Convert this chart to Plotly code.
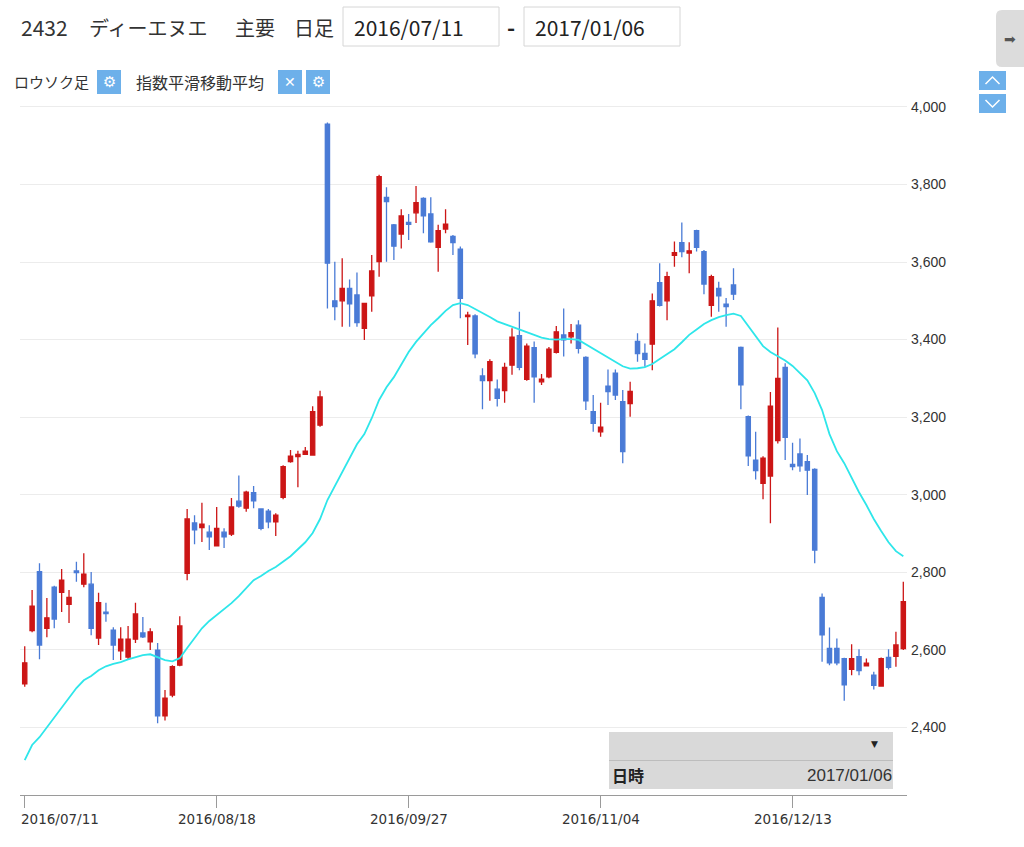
import plotly.graph_objects as go

# ---------------- data ----------------
MONTH_DAYS = [
    ("2016/07", [11, 12, 13, 14, 15, 19, 20, 21, 22, 25, 26, 27, 28, 29]),
    ("2016/08", [1, 2, 3, 4, 5, 8, 9, 10, 12, 15, 16, 17, 18, 19, 22, 23, 24, 25, 26, 29, 30, 31]),
    ("2016/09", [1, 2, 5, 6, 7, 8, 9, 12, 13, 14, 15, 16, 20, 21, 23, 26, 27, 28, 29, 30]),
    ("2016/10", [3, 4, 5, 6, 7, 11, 12, 13, 14, 17, 18, 19, 20, 21, 24, 25, 26, 27, 28, 31]),
    ("2016/11", [1, 2, 4, 7, 8, 9, 10, 11, 14, 15, 16, 17, 18, 21, 22, 24, 25, 28, 29, 30]),
    ("2016/12", [1, 2, 5, 6, 7, 8, 9, 12, 13, 14, 15, 16, 19, 20, 21, 22, 26, 27, 28, 29, 30]),
    ("2017/01", [4, 5, 6]),
]
DATES = [f"{ym}/{d:02d}" for ym, days in MONTH_DAYS for d in days]

OPEN = [2512, 2649, 2801, 2655, 2761, 2748, 2717, 2803, 2769, 2769,
        2630, 2697, 2650, 2597, 2581, 2627, 2643, 2620, 2599, 2429,
        2483, 2560, 2797, 2927, 2915, 2903, 2868, 2903, 2898, 2983,
        2965, 3005, 2963, 2957, 2930, 2993, 3085, 3098, 3104, 3102,
        3179, 3956, 3500, 3500, 3532, 3515, 3429, 3513, 3601, 3767,
        3696, 3672, 3702, 3727, 3764, 3724, 3638, 3685, 3666, 3633,
        3459, 3461, 3306, 3294, 3272, 3268, 3334, 3410, 3297, 3379,
        3291, 3304, 3367, 3412, 3407, 3437, 3354, 3214, 3162, 3280,
        3313, 3240, 3235, 3395, 3364, 3388, 3547, 3500, 3617, 3650,
        3623, 3681, 3627, 3488, 3532, 3491, 3541, 3380, 3201, 3089,
        3029, 3048, 3139, 3328, 3078, 3105, 3085, 3065, 2735, 2603,
        2603, 2577, 2549, 2582, 2558, 2534, 2506, 2580, 2583, 2603]
HIGH = [2609, 2754, 2823, 2733, 2765, 2808, 2754, 2827, 2849, 2800,
        2747, 2721, 2658, 2658, 2661, 2721, 2684, 2655, 2617, 2496,
        2560, 2686, 2963, 2947, 2979, 2921, 2968, 2913, 2991, 3049,
        3010, 3022, 2965, 2963, 2952, 3076, 3115, 3113, 3123, 3228,
        3268, 3960, 3601, 3610, 3555, 3573, 3495, 3618, 3825, 3793,
        3698, 3736, 3724, 3796, 3767, 3767, 3696, 3736, 3670, 3640,
        3472, 3465, 3326, 3349, 3297, 3340, 3429, 3472, 3390, 3395,
        3311, 3381, 3435, 3480, 3440, 3450, 3357, 3257, 3237, 3323,
        3323, 3270, 3291, 3416, 3390, 3519, 3597, 3575, 3653, 3702,
        3651, 3683, 3631, 3567, 3549, 3507, 3584, 3382, 3204, 3162,
        3099, 3265, 3431, 3339, 3134, 3145, 3102, 3068, 2745, 2657,
        2629, 2579, 2614, 2601, 2577, 2543, 2580, 2601, 2646, 2775]
LOW = [2504, 2645, 2575, 2632, 2655, 2697, 2669, 2775, 2761, 2637,
       2612, 2672, 2573, 2573, 2575, 2617, 2630, 2599, 2410, 2417,
       2477, 2557, 2779, 2872, 2878, 2857, 2866, 2862, 2893, 2966,
       2956, 2965, 2908, 2913, 2893, 2988, 3082, 3019, 3102, 3100,
       3175, 3480, 3450, 3433, 3433, 3433, 3399, 3472, 3562, 3601,
       3605, 3635, 3657, 3701, 3674, 3650, 3575, 3674, 3618, 3455,
       3386, 3352, 3220, 3242, 3227, 3237, 3309, 3321, 3294, 3237,
       3283, 3300, 3364, 3356, 3390, 3364, 3218, 3162, 3149, 3231,
       3244, 3081, 3201, 3343, 3330, 3321, 3485, 3450, 3588, 3612,
       3571, 3627, 3517, 3459, 3472, 3433, 3502, 3220, 3074, 3039,
       2988, 2926, 3132, 3089, 3063, 3059, 2999, 2823, 2569, 2560,
       2560, 2468, 2534, 2534, 2557, 2497, 2504, 2549, 2556, 2599]
CLOSE = [2566, 2712, 2612, 2682, 2679, 2779, 2735, 2799, 2795, 2655,
         2721, 2693, 2612, 2627, 2627, 2692, 2633, 2646, 2429, 2475,
         2556, 2661, 2937, 2909, 2924, 2891, 2913, 2891, 2968, 2970,
         3006, 2984, 2913, 2930, 2947, 3072, 3099, 3104, 3112, 3214,
         3252, 3597, 3485, 3532, 3492, 3444, 3493, 3577, 3820, 3756,
         3641, 3719, 3697, 3753, 3719, 3652, 3681, 3698, 3650, 3506,
         3463, 3363, 3294, 3343, 3248, 3328, 3406, 3328, 3383, 3304,
         3298, 3375, 3420, 3399, 3418, 3377, 3242, 3184, 3174, 3266,
         3257, 3111, 3266, 3364, 3349, 3500, 3488, 3562, 3624, 3627,
         3629, 3638, 3543, 3562, 3513, 3485, 3517, 3283, 3100, 3062,
         3094, 3228, 3300, 3148, 3072, 3074, 3063, 2857, 2638, 2566,
         2566, 2509, 2577, 2546, 2565, 2508, 2577, 2554, 2612, 2724]
# exponential moving average line
EMA = [2315, 2354, 2374, 2400, 2426, 2452, 2475, 2501, 2521, 2532,
       2547, 2557, 2563, 2568, 2575, 2580, 2586, 2588, 2580, 2573,
       2570, 2578, 2604, 2630, 2655, 2674, 2689, 2705, 2720, 2738,
       2759, 2779, 2790, 2803, 2813, 2828, 2841, 2859, 2877, 2901,
       2937, 2986, 3022, 3055, 3094, 3130, 3156, 3197, 3244, 3277,
       3303, 3337, 3368, 3394, 3417, 3437, 3455, 3474, 3489, 3494,
       3489, 3479, 3470, 3458, 3447, 3440, 3435, 3428, 3421, 3413,
       3405, 3401, 3400, 3401, 3401, 3399, 3388, 3377, 3365, 3355,
       3342, 3331, 3325, 3326, 3329, 3337, 3350, 3363, 3375, 3393,
       3412, 3426, 3440, 3450, 3458, 3463, 3467, 3461, 3435, 3409,
       3383, 3368, 3357, 3346, 3332, 3314, 3295, 3262, 3218, 3156,
       3112, 3081, 3043, 3006, 2973, 2937, 2906, 2877, 2854, 2841]

Y_TICKS = [2400, 2600, 2800, 3000, 3200, 3400, 3600, 3800, 4000]
X_TICK_IDX = [0, 26, 52, 78, 104]

TITLE_CODE = "2432"
TITLE_NAME = "ディーエヌエ"
TITLE_MARKET = "主要"
TITLE_PERIOD = "日足"
DATE_FROM = DATES[0]
DATE_TO = DATES[-1]
IND1 = "ロウソク足"
IND2 = "指数平滑移動平均"
INFO_LABEL = "日時"

# ---------------- layout geometry ----------------
W, H = 1024, 847
ML, MR, MT, MB = 20, 117, 100, 52
PW, PH = W - ML - MR, H - MT - MB


def px(x):
    return (x - ML) / PW


def py(y):
    return (H - MB - y) / PH


RED = "#cc1616"
BLUE = "#4a7bd6"
BTN = "#6db0ea"
JP = "Noto Sans CJK JP"

fig = go.Figure()
fig.add_trace(go.Candlestick(
    x=DATES, open=OPEN, high=HIGH, low=LOW, close=CLOSE,
    increasing=dict(line=dict(color=RED, width=1.3), fillcolor=RED),
    decreasing=dict(line=dict(color=BLUE, width=1.3), fillcolor=BLUE),
    whiskerwidth=0, showlegend=False, hoverinfo="skip",
))
fig.add_trace(go.Scatter(
    x=DATES, y=EMA, mode="lines", line=dict(color="#2ee6ea", width=1.8),
    showlegend=False, hoverinfo="skip",
))

shapes = []
ann = []


def rect(x0, y0, x1, y1, fill, line="rgba(0,0,0,0)", lw=0):
    shapes.append(dict(type="rect", xref="paper", yref="paper",
                       x0=px(x0), x1=px(x1), y0=py(y1), y1=py(y0),
                       fillcolor=fill, line=dict(color=line, width=lw), layer="above"))


def text(x, y, s, size, color="#333", anchor="left", font=JP, bold=False):
    ann.append(dict(xref="paper", yref="paper", x=px(x), y=py(y), text=f"<b>{s}</b>" if bold else s,
                    showarrow=False, xanchor=anchor, yanchor="middle",
                    font=dict(size=size, color=color, family=font)))


# header
text(19, 27, TITLE_CODE, 21, "#333")
text(87, 27, TITLE_NAME, 20, "#333")
text(233, 27, TITLE_MARKET, 20, "#333")
text(292, 27, TITLE_PERIOD, 20, "#333")
rect(343, 7, 499, 46, "white", "#d6d6d6", 1)
rect(524, 7, 680, 46, "white", "#d6d6d6", 1)
text(352, 27, DATE_FROM, 21, "#222")
text(533, 27, DATE_TO, 21, "#222")
text(511, 26, "-", 22, "#222", anchor="center", bold=True)
# right tab
shapes.append(dict(type="path", xref="paper", yref="paper",
                   path=f"M {px(1030)},{py(10)} L {px(1002)},{py(10)} Q {px(996)},{py(10)} {px(996)},{py(16)} "
                        f"L {px(996)},{py(61)} Q {px(996)},{py(67)} {px(1002)},{py(67)} L {px(1030)},{py(67)} Z",
                   fillcolor="#dcdcdc", line=dict(width=0), layer="above"))
text(1010, 39, "➡", 14, "#555", anchor="center", font="DejaVu Sans")

# indicator row
text(12, 82, IND1, 15, "#333")
rect(97, 70, 121, 94, BTN)
text(109, 82, "⚙", 15, "white", anchor="center", font="DejaVu Sans")
text(134, 82, IND2, 16, "#333")
rect(278, 70, 302, 94, BTN)
text(290, 82, "✕", 14, "white", anchor="center", font="DejaVu Sans")
rect(306, 70, 330, 94, BTN)
text(318, 82, "⚙", 15, "white", anchor="center", font="DejaVu Sans")

# up / down buttons
rect(979, 71, 1006, 90, BTN)
rect(979, 94, 1006, 113, BTN)
shapes.append(dict(type="path", xref="paper", yref="paper",
                   path=f"M {px(985.5)},{py(84)} L {px(992.5)},{py(77)} L {px(999.5)},{py(84)}",
                   line=dict(color="white", width=1.5), layer="above"))
shapes.append(dict(type="path", xref="paper", yref="paper",
                   path=f"M {px(985.5)},{py(100)} L {px(992.5)},{py(107)} L {px(999.5)},{py(100)}",
                   line=dict(color="white", width=1.5), layer="above"))

# info box
rect(609, 732, 893, 760, "#d9d9d9")
rect(609, 761, 893, 789, "#d9d9d9")
shapes.append(dict(type="line", xref="paper", yref="paper", x0=px(609), x1=px(893),
                   y0=py(760.5), y1=py(760.5), line=dict(color="#bdbdbd", width=1), layer="above"))
text(874, 744, "▼", 9, "#222", anchor="center", font="DejaVu Sans")
text(610, 775, INFO_LABEL, 16, "#222", bold=True)
text(894, 775, DATE_TO, 17, "#333", anchor="right", font="Liberation Sans")

# x tick labels
for k, i in enumerate(X_TICK_IDX):
    ann.append(dict(xref="x", yref="paper", x=DATES[i], y=py(819), text=DATES[i],
                    showarrow=False, xanchor="left" if k == 0 else "center",
                    xshift=-6 if k == 0 else 0, yanchor="middle",
                    font=dict(size=13.5, color="#333", family="DejaVu Sans")))

fig.update_layout(
    width=W, height=H, autosize=False,
    margin=dict(l=ML, r=MR, t=MT, b=MB, pad=0),
    paper_bgcolor="white", plot_bgcolor="white",
    shapes=shapes, annotations=ann, showlegend=False,
    boxgap=0.18,
    xaxis=dict(type="category", range=[-0.64, 119.5], rangeslider=dict(visible=False),
               showgrid=False, zeroline=False, showline=True, linecolor="#9a9a9a", linewidth=1,
               ticks="outside", ticklen=12, tickcolor="#9a9a9a", tickwidth=1,
               tickvals=[DATES[i] for i in X_TICK_IDX], ticktext=["" for _ in X_TICK_IDX]),
    yaxis=dict(side="right", range=[2225, 4018], tickvals=Y_TICKS, tickformat=",d",
               showgrid=True, gridcolor="#ececec", gridwidth=1, zeroline=False, showline=False,
               ticks="", ticklabelstandoff=3,
               tickfont=dict(size=14, color="#333", family="Liberation Sans")),
)

fig.write_html("out.html", config={"displayModeBar": False},
               post_script="document.body.style.margin='0px';")
